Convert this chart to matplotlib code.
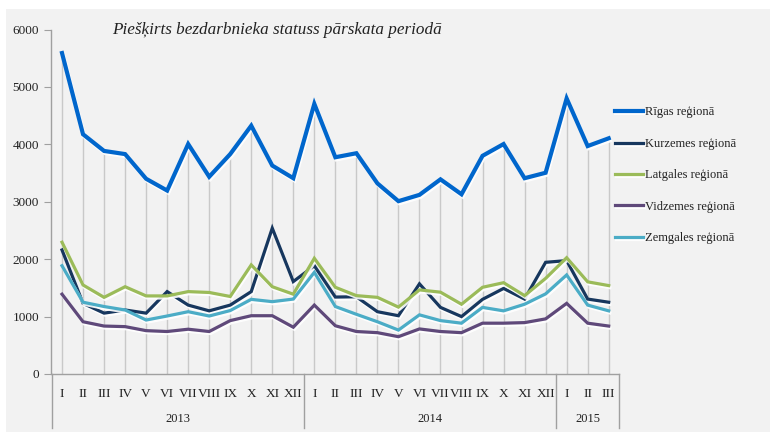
import numpy as np
import matplotlib
matplotlib.use("Agg")
import matplotlib.pyplot as plt
import matplotlib.patheffects as pe
import matplotlib.transforms as mtransforms

months = ["I", "II", "III", "IV", "V", "VI", "VII", "VIII", "IX", "X", "XI", "XII",
          "I", "II", "III", "IV", "V", "VI", "VII", "VIII", "IX", "X", "XI", "XII",
          "I", "II", "III"]
years = ["2013", "2014", "2015"]
year_len = [12, 12, 3]

riga = [5590, 4175, 3885, 3830, 3400, 3195, 4005, 3435, 3830, 4325, 3630, 3410,
        4705, 3775, 3845, 3320, 3010, 3120, 3390, 3130, 3800, 4005, 3410, 3505,
        4800, 3970, 4105]
kurzeme = [2160, 1230, 1060, 1115, 1060, 1435, 1200, 1100, 1200, 1435, 2540, 1610,
           1885, 1340, 1345, 1085, 1015, 1570, 1160, 1000, 1300, 1490, 1305, 1945,
           1975, 1305, 1250]
latgale = [2295, 1550, 1335, 1520, 1360, 1360, 1435, 1420, 1350, 1900, 1520, 1390,
           2015, 1510, 1365, 1335, 1165, 1465, 1425, 1215, 1510, 1590, 1365, 1665,
           2025, 1605, 1540]
vidzeme = [1390, 910, 835, 825, 755, 740, 780, 740, 930, 1015, 1015, 815,
           1200, 840, 740, 720, 650, 785, 740, 720, 885, 885, 895, 960,
           1230, 885, 835]
zemgale = [1885, 1250, 1175, 1115, 940, 1010, 1085, 1010, 1105, 1300, 1260, 1305,
           1770, 1175, 1040, 910, 765, 1030, 930, 885, 1160, 1100, 1215, 1395,
           1725, 1200, 1100]

labels = ["Rīgas reģionā", "Kurzemes reģionā", "Latgales reģionā",
          "Vidzemes reģionā", "Zemgales reģionā"]
colors = ["#0066CC", "#17375E", "#9BBB59", "#5F497A", "#4BACC6"]
widths = [3.0, 2.3, 2.3, 2.3, 2.3]

serif = ["Liberation Serif", "DejaVu Serif"]
plt.rcParams["font.family"] = serif

fig = plt.figure(figsize=(7.7, 4.32), dpi=100, facecolor="white")
# gray panel behind everything (white strip at top and left)
fig.patches.append(plt.Rectangle((6 / 770, 0), 1, 1 - 9 / 432, transform=fig.transFigure,
                                 facecolor="#f2f2f2", edgecolor="none", zorder=-10))

ax = fig.add_axes([51.5 / 770, 58 / 432, 567.7 / 770, 344.5 / 432])
ax.set_facecolor("none")

x = np.arange(len(months))
series = [riga, kurzeme, latgale, vidzeme, zemgale]

# drop lines from the top series to the axis
ax.vlines(x, 0, np.max(series, axis=0), color="#c9c9c9", lw=1, zorder=1)

shadow = [pe.SimpleLineShadow(offset=(0.8, -1.5), shadow_color="white", alpha=0.9), pe.Normal()]
for s, lab, c, w in zip(series, labels, colors, widths):
    ax.plot(x, s, color=c, lw=w, label=lab, solid_joinstyle="miter", zorder=3,
            path_effects=shadow)

ax.set_xlim(-0.5, len(months) - 0.5)
ax.set_ylim(0, 6000)
ax.set_yticks(range(0, 6001, 1000))
ax.set_xticks(x)
ax.set_xticklabels(months, fontsize=9.5)
ax.tick_params(axis="x", length=0, pad=10, colors="#222222")
ax.tick_params(axis="y", length=5, color="#a0a0a0", labelsize=9.5, labelcolor="#222222", pad=4)

for sp in ["top", "right"]:
    ax.spines[sp].set_visible(False)
for sp in ["left", "bottom"]:
    ax.spines[sp].set_color("#a0a0a0")
    ax.spines[sp].set_linewidth(1)

# year groups under the month labels
trans = mtransforms.blended_transform_factory(ax.transData, ax.transAxes)
bottom = -(428 - 374) / 344.5
start = 0
bounds = [-0.5]
for yr, n in zip(years, year_len):
    mid = start + (n - 1) / 2
    ax.text(mid, -(419 - 374) / 344.5, yr, transform=trans, ha="center", va="center",
            fontsize=9, color="#222222")
    start += n
    bounds.append(start - 0.5)
for b in bounds:
    ax.plot([b, b], [0, bottom], transform=trans, color="#a0a0a0", lw=1, clip_on=False)

fig.text(112 / 770, 1 - 30 / 432, "Piešķirts bezdarbnieka statuss pārskata periodā",
         fontsize=12.3, style="italic", ha="left", va="center", color="#222222")

leg = fig.legend(loc="upper left", bbox_to_anchor=(610 / 770, 1 - 101.5 / 432),
                 frameon=False, fontsize=9, handlelength=2.25, handletextpad=0.15,
                 labelspacing=1.55, borderaxespad=0)
for t in leg.get_texts():
    t.set_color("#222222")

fig.savefig("out.png", dpi=100, facecolor=fig.get_facecolor())
